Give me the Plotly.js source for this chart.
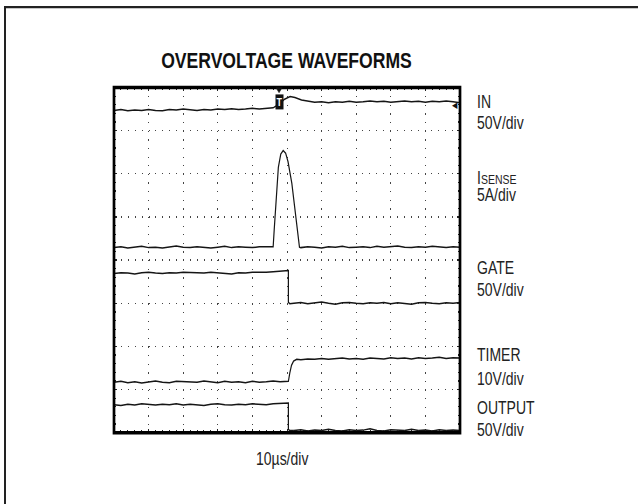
<!DOCTYPE html>
<html>
<head>
<meta charset="utf-8">
<script src="https://cdn.plot.ly/plotly-3.0.1.min.js"></script>
<style>
  html, body { margin: 0; padding: 0; background: #fff; overflow: hidden; width: 638px; height: 504px; }
  #plot { width: 638px; height: 403px; transform: scaleY(1.2506); transform-origin: 0 0; }
</style>
</head>
<body>
<div id="plot"></div>
<script>
// ---- Data (time in µs, 10 µs/div; amplitude in screen divisions, 0 = bottom, 8 = top) ----
const timeIN = [0,2,4,6,8,10,12,14,16,18,20,22,24,26,28,30,32,34,36,38,40,42,44,46,
  47.8,49.3,50.9,52.3,54.2,56.2,58,
  60,62,64,66,68,70,72,74,76,78,80,82,84,86,88,90,92,94,96,98,100];
const valIN = [7.47,7.49,7.46,7.48,7.47,7.49,7.47,7.46,7.49,7.48,7.50,7.48,7.47,7.49,7.48,7.50,7.49,7.51,7.49,7.50,7.52,7.50,7.51,7.53,
  7.62,7.73,7.79,7.77,7.71,7.68,7.66,
  7.67,7.65,7.67,7.66,7.68,7.66,7.67,7.69,7.67,7.68,7.66,7.68,7.69,7.67,7.68,7.66,7.68,7.67,7.69,7.67,7.65];

const timeISENSE = [0,2,4,6,8,10,12,14,16,18,20,22,24,26,28,30,32,34,36,38,40,42,44,
  46.0,46.3,46.9,47.5,48.2,48.9,49.6,50.3,51.4,52.5,53.6,
  54,56,58,60,62,64,66,68,70,72,74,76,78,80,82,84,86,88,90,92,94,96,98,100];
const valISENSE = [4.29,4.31,4.28,4.30,4.32,4.29,4.30,4.28,4.31,4.33,4.30,4.29,4.31,4.30,4.28,4.30,4.32,4.29,4.31,4.30,4.29,4.31,4.30,
  4.31,4.70,5.50,6.15,6.46,6.54,6.48,6.28,5.78,5.05,4.30,
  4.29,4.31,4.30,4.28,4.31,4.30,4.32,4.29,4.30,4.31,4.29,4.32,4.30,4.31,4.33,4.30,4.29,4.31,4.30,4.32,4.30,4.29,4.31,4.30];

const timeGATE = [0,2,4,6,8,10,12,14,16,18,20,22,24,26,28,30,32,34,36,38,40,42,44,46,48,
  49.8,50.4,50.4,50.8,
  52,54,56,58,60,62,64,66,68,70,72,74,76,78,80,82,84,86,88,90,92,94,96,98,100];
const valGATE = [3.69,3.71,3.70,3.68,3.71,3.72,3.70,3.69,3.71,3.70,3.72,3.71,3.69,3.70,3.72,3.71,3.70,3.68,3.71,3.70,3.72,3.71,3.72,3.73,3.74,
  3.75,3.76,3.02,2.99,
  3.00,3.02,2.99,3.01,3.03,3.00,2.98,3.01,3.02,3.00,2.99,3.01,3.00,3.02,2.99,3.01,3.00,2.98,3.01,3.02,3.00,2.99,3.01,3.00,3.02];

const timeTIMER = [0,2,4,6,8,10,12,14,16,18,20,22,24,26,28,30,32,34,36,38,40,42,44,46,48,
  50.4,50.8,51.3,51.9,52.8,
  54,56,58,60,62,64,66,68,70,72,74,76,78,80,82,84,86,88,90,92,94,96,98,100];
const valTIMER = [1.17,1.19,1.16,1.18,1.15,1.18,1.20,1.17,1.16,1.19,1.18,1.16,1.17,1.20,1.18,1.16,1.19,1.17,1.18,1.16,1.19,1.17,1.18,1.20,1.18,
  1.19,1.38,1.56,1.66,1.70,
  1.69,1.71,1.70,1.72,1.70,1.71,1.73,1.71,1.72,1.70,1.73,1.72,1.71,1.74,1.72,1.73,1.71,1.74,1.72,1.73,1.75,1.72,1.74,1.73];

const timeOUTPUT = [0,2,4,6,8,10,12,14,16,18,20,22,24,26,28,30,32,34,36,38,40,42,44,46,48,
  49.8,50.4,50.4,50.8,
  52,54,56,58,60,62,64,66,68,70,72,74,76,78,80,82,84,86,88,90,92,94,96,98,100];
const valOUTPUT = [0.65,0.63,0.66,0.64,0.67,0.65,0.64,0.66,0.65,0.67,0.64,0.66,0.65,0.63,0.66,0.67,0.65,0.64,0.66,0.65,0.67,0.66,0.65,0.67,0.68,
  0.68,0.69,0.08,0.05,
  0.05,0.07,0.04,0.06,0.05,0.08,0.05,0.04,0.07,0.05,0.06,0.09,0.05,0.04,0.07,0.06,0.05,0.08,0.05,0.06,0.04,0.07,0.05,0.06,0.05];

const channelNames = ['IN', 'I<span style="font-size:10.5px">SENSE</span>', 'GATE', 'TIMER', 'OUTPUT'];
const channelScales = ['50V/div', '5A/div', '50V/div', '10V/div', '50V/div'];
const timeBaseLabel = '10\u00b5s/div';
const chartTitle = 'OVERVOLTAGE WAVEFORMS';
const triggerTime = 47.7;
const triggerLevel = 7.70;
const groundLevelIN = 7.58;

// ---- Layout helpers (pixel placement, unstretched frame) ----
const W = 638, H = 403, ML = 114, MR = 178, MT = 70, MB = 57;
const PW = W - ML - MR, PH = H - MT - MB;
const px = x => (x - ML) / PW;
const py = y => (H - MB - y) / PH;

const series = [
  [timeIN, valIN], [timeISENSE, valISENSE], [timeGATE, valGATE],
  [timeTIMER, valTIMER], [timeOUTPUT, valOUTPUT]
];
const traces = series.map(([t, v]) => ({
  x: t, y: v, type: 'scatter', mode: 'lines',
  line: { color: '#151515', width: 1.2 }, hoverinfo: 'skip'
}));

const nameY = [81.3, 141.9, 213.9, 284.3, 325.8];
const scaleY = [98.0, 156.3, 232.3, 302.7, 344.2];
const labelFont = { family: 'Liberation Sans, Arial, sans-serif', size: 14, color: '#222' };
const annotations = [];
channelNames.forEach((n, i) => {
  annotations.push({ xref: 'paper', yref: 'paper', x: px(475), y: py(nameY[i]), xanchor: 'left', yanchor: 'middle',
    text: n, showarrow: false, font: labelFont });
  annotations.push({ xref: 'paper', yref: 'paper', x: px(475), y: py(scaleY[i]), xanchor: 'left', yanchor: 'middle',
    text: channelScales[i], showarrow: false, font: labelFont });
});
annotations.push({ xref: 'paper', yref: 'paper', x: px(254), y: py(366.6), xanchor: 'left', yanchor: 'middle',
  text: timeBaseLabel, showarrow: false, font: labelFont });
// trigger marker
annotations.push({ xref: 'x', yref: 'y', x: triggerTime, y: triggerLevel - 0.03, text: '<b>T</b>', showarrow: false,
  font: { family: 'Liberation Sans, Arial', size: 9, color: '#fff' }, bgcolor: '#111', borderpad: 0.5 });
annotations.push({ xref: 'paper', yref: 'y', x: 1, y: groundLevelIN, xanchor: 'right', text: '\u25c0', showarrow: false,
  font: { family: 'DejaVu Sans', size: 7, color: '#111' } });

const shapes = [
  { type: 'rect', xref: 'paper', yref: 'paper', x0: 0, x1: 1, y0: 0, y1: 1,
    line: { color: '#000', width: 2.7 }, fillcolor: 'rgba(0,0,0,0)', layer: 'above' },
  // trigger-position pointer on the top edge
  { type: 'path', xref: 'x', yref: 'paper', layer: 'above',
    path: 'M ' + (triggerTime - 0.9) + ',1 L ' + (triggerTime + 0.9) + ',1 L ' + triggerTime + ',0.985 Z',
    fillcolor: '#111', line: { color: '#111', width: 0.5 } },
  // outer figure frame (left and top edges)
  { type: 'line', xref: 'paper', yref: 'paper', x0: px(5), x1: px(5), y0: py(5.6), y1: py(420),
    line: { color: '#222', width: 2 } },
  { type: 'line', xref: 'paper', yref: 'paper', x0: px(4), x1: px(640), y0: py(5.6), y1: py(5.6),
    line: { color: '#222', width: 1.8 } }
];

const axisCommon = {
  showticklabels: false, zeroline: false, showline: false,
  showgrid: true, gridcolor: '#444', gridwidth: 1, griddash: '1px,5.9px',
  ticks: 'inside', ticklen: 3, tickcolor: '#222', tickwidth: 1, mirror: 'allticks',
  fixedrange: true
};

const layout = {
  width: W, height: H,
  margin: { l: ML, r: MR, t: MT, b: MB, pad: 0 },
  paper_bgcolor: '#fff', plot_bgcolor: '#fff',
  showlegend: false,
  title: { text: chartTitle, xref: 'container', yref: 'container', x: 286.5 / W, y: 1 - 48 / H,
    xanchor: 'center', yanchor: 'middle',
    font: { family: 'Liberation Sans, Arial, sans-serif', size: 17.6, weight: 'bold', color: '#111' } },
  xaxis: Object.assign({}, axisCommon, { range: [0, 100], dtick: 10, tick0: 0,
    minor: { ticks: 'inside', ticklen: 2, dtick: 2, tickcolor: '#222', showgrid: false } }),
  yaxis: Object.assign({}, axisCommon, { range: [0, 8], dtick: 1, tick0: 0,
    minor: { ticks: 'inside', ticklen: 2, dtick: 0.2, tickcolor: '#222', showgrid: false } }),
  annotations: annotations,
  shapes: shapes
};

Plotly.newPlot('plot', traces, layout, { displayModeBar: false, staticPlot: true });
</script>
</body>
</html>
